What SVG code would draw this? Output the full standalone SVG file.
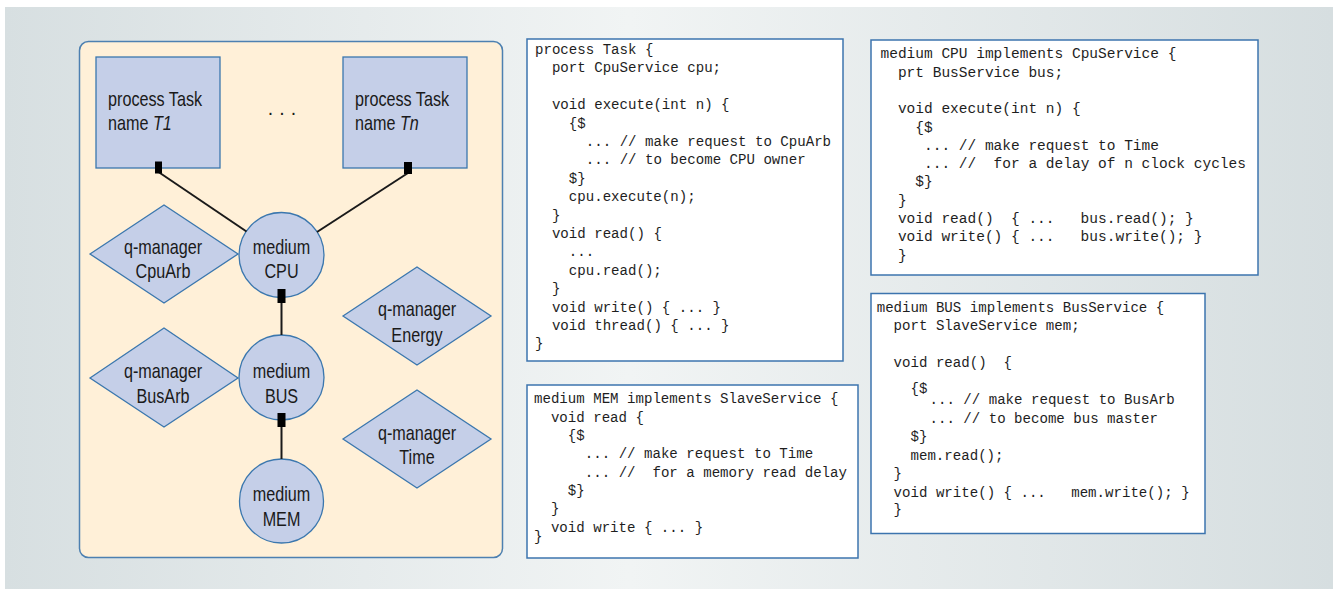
<svg xmlns="http://www.w3.org/2000/svg" width="1333" height="589" viewBox="0 0 1333 589">
<defs>
<linearGradient id="bg" x1="0" y1="0" x2="1" y2="0">
<stop offset="0" stop-color="#d7dfe1"/>
<stop offset="0.47" stop-color="#f1f4f4"/>
<stop offset="1" stop-color="#d6dee0"/>
</linearGradient>
<style>
.panel{fill:#fff0d8;stroke:#4d80b1;stroke-width:1.5}
.node{fill:#c5cfe8;stroke:#3b77ae;stroke-width:1.3}
.lbl{font-family:"Liberation Sans",Arial,sans-serif;font-size:19.5px;fill:#1a1a1a}
.mid{text-anchor:middle}
.code{fill:#ffffff;stroke:#3c74ae;stroke-width:1.5}
.mono{font-family:"Liberation Mono","Courier New",monospace;font-size:14.1px;fill:#1e1e1e;white-space:pre}
.wire{stroke:#1a1a1a;stroke-width:2;fill:none}
.port{fill:#000000}
</style>
</defs>
<rect x="0" y="0" width="1333" height="589" fill="#ffffff"/>
<rect x="5" y="7" width="1328" height="582" fill="url(#bg)"/>
<rect class="panel" x="79.5" y="41.5" width="423" height="516" rx="9" ry="9"/>

<g id="task-t1">
<rect class="node" x="96" y="57" width="124" height="111"/>
<text class="lbl" transform="translate(108 106) scale(0.83 1)">process Task</text>
<text class="lbl" transform="translate(108 130) scale(0.83 1)">name <tspan font-style="italic">T1</tspan></text>
</g>
<g id="ellipsis">
<text class="lbl mid" x="285" y="115" letter-spacing="6">...</text>
</g>
<g id="task-tn">
<rect class="node" x="343" y="57" width="124" height="111"/>
<text class="lbl" transform="translate(355 106) scale(0.83 1)">process Task</text>
<text class="lbl" transform="translate(355 130) scale(0.83 1)">name <tspan font-style="italic">Tn</tspan></text>
</g>
<g id="qm-cpuarb">
<polygon class="node" points="90,254 164,205 238,254 164,303"/>
<text class="lbl mid" transform="translate(163 254) scale(0.83 1)">q-manager</text>
<text class="lbl mid" transform="translate(163 278) scale(0.83 1)">CpuArb</text>
</g>
<g id="qm-busarb">
<polygon class="node" points="90,378 164,328 238,378 164,427"/>
<text class="lbl mid" transform="translate(163 378) scale(0.83 1)">q-manager</text>
<text class="lbl mid" transform="translate(163 403) scale(0.83 1)">BusArb</text>
</g>
<g id="qm-energy">
<polygon class="node" points="343,316 417,267 491,316 417,365"/>
<text class="lbl mid" transform="translate(417 316) scale(0.83 1)">q-manager</text>
<text class="lbl mid" transform="translate(417 342) scale(0.83 1)">Energy</text>
</g>
<g id="qm-time">
<polygon class="node" points="343,439 417,390 491,439 417,488"/>
<text class="lbl mid" transform="translate(417 440) scale(0.83 1)">q-manager</text>
<text class="lbl mid" transform="translate(417 464) scale(0.83 1)">Time</text>
</g>
<g id="medium-cpu">
<circle class="node" cx="281.5" cy="255" r="42.5"/>
<text class="lbl mid" transform="translate(281.5 254) scale(0.83 1)">medium</text>
<text class="lbl mid" transform="translate(281.5 278) scale(0.83 1)">CPU</text>
</g>
<g id="medium-bus">
<circle class="node" cx="281.5" cy="377.5" r="42.5"/>
<text class="lbl mid" transform="translate(281.5 378) scale(0.83 1)">medium</text>
<text class="lbl mid" transform="translate(281.5 403) scale(0.83 1)">BUS</text>
</g>
<g id="medium-mem">
<circle class="node" cx="281.5" cy="501" r="42"/>
<text class="lbl mid" transform="translate(281.5 501) scale(0.83 1)">medium</text>
<text class="lbl mid" transform="translate(281.5 526) scale(0.83 1)">MEM</text>
</g>

<g id="connectors">
<line class="wire" x1="158.5" y1="172" x2="246.5" y2="231.5"/>
<line class="wire" x1="408" y1="173" x2="317" y2="232"/>
<line class="wire" x1="281.5" y1="302" x2="281.5" y2="335"/>
<line class="wire" x1="281.5" y1="426" x2="281.5" y2="459"/>
<rect class="port" x="155" y="161.5" width="7" height="12"/>
<rect class="port" x="404" y="162" width="8" height="12"/>
<rect class="port" x="277.5" y="289" width="8" height="14"/>
<rect class="port" x="277.5" y="413" width="8" height="14"/>
</g>

<g id="code-task">
<rect class="code" x="527" y="39" width="316" height="322"/>
<text class="mono" xml:space="preserve"><tspan x="535" y="54">process Task {</tspan><tspan x="551.9" y="72.4">port CpuService cpu;</tspan><tspan x="551.9" y="109.2">void execute(int n) {</tspan><tspan x="568.8" y="127.6">{$</tspan><tspan x="585.8" y="146">... // make request to CpuArb</tspan><tspan x="585.8" y="164.4">... // to become CPU owner</tspan><tspan x="568.8" y="182.8">$}</tspan><tspan x="568.8" y="201.2">cpu.execute(n);</tspan><tspan x="551.9" y="219.6">}</tspan><tspan x="551.9" y="238">void read() {</tspan><tspan x="568.8" y="256.4">...</tspan><tspan x="568.8" y="274.8">cpu.read();</tspan><tspan x="551.9" y="293.2">}</tspan><tspan x="551.9" y="311.6">void write() { ... }</tspan><tspan x="551.9" y="330">void thread() { ... }</tspan><tspan x="535" y="348.4">}</tspan></text>
</g>

<g id="code-mem">
<rect class="code" x="527" y="385" width="331" height="173"/>
<text class="mono" xml:space="preserve"><tspan x="534" y="403">medium MEM implements SlaveService {</tspan><tspan x="550.9" y="421.5">void read {</tspan><tspan x="567.8" y="440">{$</tspan><tspan x="584.8" y="458.3">... // make request to Time</tspan><tspan x="584.8" y="476.7">... //  for a memory read delay</tspan><tspan x="567.8" y="495">$}</tspan><tspan x="550.9" y="512.5">}</tspan><tspan x="550.9" y="532">void write { ... }</tspan><tspan x="534" y="541">}</tspan></text>
</g>

<g id="code-cpu">
<rect class="code" x="871" y="40" width="387" height="235"/>
<text class="mono" xml:space="preserve" style="font-size:14.5px"><tspan x="880.5" y="58.3">medium CPU implements CpuService {</tspan><tspan x="897.9" y="76.6">prt BusService bus;</tspan><tspan x="897.9" y="113.2">void execute(int n) {</tspan><tspan x="915.3" y="131.5">{$</tspan><tspan x="924" y="149.8">... // make request to Time</tspan><tspan x="924" y="168.1">... //  for a delay of n clock cycles</tspan><tspan x="915.3" y="186.4">$}</tspan><tspan x="897.9" y="204.7">}</tspan><tspan x="897.9" y="223">void read()  { ...   bus.read(); }</tspan><tspan x="897.9" y="241.3">void write() { ...   bus.write(); }</tspan><tspan x="897.9" y="259.6">}</tspan></text>
</g>

<g id="code-bus">
<rect class="code" x="871" y="293.5" width="334" height="240"/>
<text class="mono" xml:space="preserve"><tspan x="876.7" y="311.7">medium BUS implements BusService {</tspan><tspan x="893.6" y="330">port SlaveService mem;</tspan><tspan x="893.6" y="366.7">void read()  {</tspan><tspan x="910.5" y="393">{$</tspan><tspan x="929.5" y="404">... // make request to BusArb</tspan><tspan x="929.5" y="422.7">... // to become bus master</tspan><tspan x="910.5" y="440.5">$}</tspan><tspan x="910.5" y="460">mem.read();</tspan><tspan x="893.6" y="477.5">}</tspan><tspan x="893.6" y="496.7">void write() { ...   mem.write(); }</tspan><tspan x="893.6" y="514.3">}</tspan></text>
</g>
</svg>
